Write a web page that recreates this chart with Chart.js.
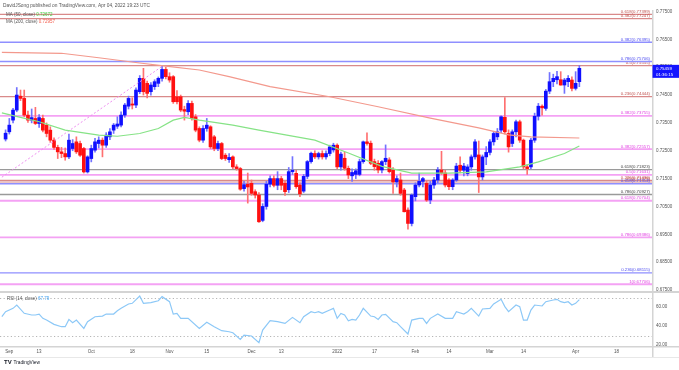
<!DOCTYPE html>
<html>
<head>
<meta charset="utf-8">
<script src="https://cdn.jsdelivr.net/npm/chart.js@4.4.0/dist/chart.umd.min.js"></script>
<style>
  html, body { margin: 0; padding: 0; background: #fff; }
</style>
</head>
<body>
<canvas id="grafica" width="679" height="370"></canvas>
<script>
// Velas diarias AUD/USD [apertura, maximo, minimo, cierre], desde el 31 de agosto de 2021
const primeraVela = "2021-08-31";
const velas = [
  [0.7292, 0.7325, 0.7285, 0.7313], [0.7318, 0.7366, 0.7310, 0.7342], [0.7360, 0.7402, 0.7350, 0.7396],
  [0.7396, 0.7477, 0.7390, 0.7450], [0.7446, 0.7468, 0.7430, 0.7438], [0.7438, 0.7468, 0.7372, 0.7378],
  [0.7378, 0.7392, 0.7352, 0.7360], [0.7360, 0.7400, 0.7350, 0.7369], [0.7366, 0.7406, 0.7344, 0.7348],
  [0.7348, 0.7380, 0.7334, 0.7369], [0.7366, 0.7378, 0.7318, 0.7324], [0.7342, 0.7350, 0.7300, 0.7312],
  [0.7324, 0.7336, 0.7280, 0.7288], [0.7288, 0.7296, 0.7255, 0.7262], [0.7262, 0.7270, 0.7222, 0.7246],
  [0.7246, 0.7262, 0.7225, 0.7240], [0.7240, 0.7260, 0.7216, 0.7228], [0.7228, 0.7310, 0.7222, 0.7288],
  [0.7258, 0.7290, 0.7250, 0.7276], [0.7282, 0.7300, 0.7240, 0.7246], [0.7276, 0.7285, 0.7230, 0.7234],
  [0.7258, 0.7262, 0.7170, 0.7174], [0.7174, 0.7232, 0.7170, 0.7228], [0.7222, 0.7270, 0.7210, 0.7258],
  [0.7252, 0.7295, 0.7245, 0.7282], [0.7276, 0.7300, 0.7260, 0.7288], [0.7288, 0.7296, 0.7228, 0.7270],
  [0.7270, 0.7315, 0.7262, 0.7306], [0.7300, 0.7330, 0.7290, 0.7318], [0.7324, 0.7348, 0.7312, 0.7342],
  [0.7338, 0.7372, 0.7330, 0.7346], [0.7342, 0.7390, 0.7336, 0.7378], [0.7378, 0.7420, 0.7370, 0.7414],
  [0.7410, 0.7446, 0.7400, 0.7438], [0.7418, 0.7440, 0.7400, 0.7414], [0.7414, 0.7476, 0.7405, 0.7468],
  [0.7462, 0.7520, 0.7455, 0.7510], [0.7510, 0.7546, 0.7450, 0.7462], [0.7492, 0.7500, 0.7440, 0.7456],
  [0.7462, 0.7495, 0.7450, 0.7486], [0.7480, 0.7505, 0.7470, 0.7498], [0.7492, 0.7515, 0.7480, 0.7510],
  [0.7510, 0.7556, 0.7500, 0.7542], [0.7542, 0.7550, 0.7508, 0.7516], [0.7516, 0.7530, 0.7496, 0.7504],
  [0.7516, 0.7520, 0.7420, 0.7426], [0.7444, 0.7466, 0.7418, 0.7426], [0.7444, 0.7450, 0.7390, 0.7396],
  [0.7398, 0.7410, 0.7360, 0.7392], [0.7390, 0.7430, 0.7380, 0.7420], [0.7420, 0.7428, 0.7360, 0.7366],
  [0.7372, 0.7380, 0.7318, 0.7324], [0.7330, 0.7336, 0.7282, 0.7288], [0.7288, 0.7340, 0.7280, 0.7330],
  [0.7330, 0.7366, 0.7320, 0.7342], [0.7336, 0.7340, 0.7258, 0.7264], [0.7300, 0.7305, 0.7250, 0.7258],
  [0.7258, 0.7285, 0.7250, 0.7276], [0.7276, 0.7280, 0.7218, 0.7222], [0.7234, 0.7240, 0.7215, 0.7222],
  [0.7218, 0.7240, 0.7208, 0.7226], [0.7228, 0.7232, 0.7186, 0.7192], [0.7192, 0.7200, 0.7180, 0.7186],
  [0.7186, 0.7190, 0.7108, 0.7112], [0.7114, 0.7140, 0.7105, 0.7128], [0.7130, 0.7170, 0.7062, 0.7120],
  [0.7133, 0.7145, 0.7090, 0.7097], [0.7103, 0.7110, 0.7080, 0.7091], [0.7091, 0.7100, 0.6993, 0.6995],
  [0.7000, 0.7060, 0.6995, 0.7050], [0.7050, 0.7140, 0.7040, 0.7130], [0.7130, 0.7160, 0.7120, 0.7150],
  [0.7150, 0.7160, 0.7120, 0.7126], [0.7126, 0.7175, 0.7110, 0.7150], [0.7150, 0.7158, 0.7110, 0.7126],
  [0.7133, 0.7140, 0.7090, 0.7103], [0.7110, 0.7190, 0.7100, 0.7175], [0.7175, 0.7229, 0.7165, 0.7180],
  [0.7169, 0.7180, 0.7115, 0.7121], [0.7127, 0.7135, 0.7085, 0.7095], [0.7105, 0.7165, 0.7100, 0.7158],
  [0.7158, 0.7215, 0.7150, 0.7211], [0.7211, 0.7245, 0.7205, 0.7241], [0.7240, 0.7250, 0.7222, 0.7228],
  [0.7228, 0.7245, 0.7220, 0.7240], [0.7240, 0.7250, 0.7220, 0.7228], [0.7228, 0.7250, 0.7220, 0.7240],
  [0.7240, 0.7270, 0.7232, 0.7264], [0.7253, 0.7277, 0.7245, 0.7270], [0.7270, 0.7275, 0.7185, 0.7192],
  [0.7192, 0.7245, 0.7180, 0.7238], [0.7223, 0.7245, 0.7180, 0.7187], [0.7187, 0.7195, 0.7150, 0.7163],
  [0.7160, 0.7185, 0.7140, 0.7172], [0.7165, 0.7185, 0.7150, 0.7178], [0.7165, 0.7220, 0.7160, 0.7211],
  [0.7211, 0.7285, 0.7205, 0.7282], [0.7282, 0.7314, 0.7270, 0.7276], [0.7277, 0.7285, 0.7200, 0.7205],
  [0.7211, 0.7220, 0.7180, 0.7193], [0.7205, 0.7215, 0.7170, 0.7181], [0.7181, 0.7215, 0.7170, 0.7211],
  [0.7211, 0.7271, 0.7200, 0.7223], [0.7217, 0.7225, 0.7170, 0.7175], [0.7180, 0.7190, 0.7097, 0.7138],
  [0.7138, 0.7160, 0.7120, 0.7150], [0.7145, 0.7170, 0.7090, 0.7097], [0.7109, 0.7115, 0.7030, 0.7031],
  [0.7037, 0.7045, 0.6968, 0.6989], [0.6989, 0.7095, 0.6980, 0.7091], [0.7085, 0.7135, 0.7070, 0.7127],
  [0.7127, 0.7170, 0.7120, 0.7140], [0.7140, 0.7155, 0.7120, 0.7150], [0.7133, 0.7140, 0.7068, 0.7073],
  [0.7073, 0.7140, 0.7060, 0.7127], [0.7127, 0.7155, 0.7115, 0.7145], [0.7145, 0.7190, 0.7135, 0.7181],
  [0.7181, 0.7248, 0.7165, 0.7170], [0.7170, 0.7180, 0.7120, 0.7127], [0.7145, 0.7150, 0.7110, 0.7121],
  [0.7121, 0.7150, 0.7110, 0.7145], [0.7145, 0.7205, 0.7140, 0.7195], [0.7198, 0.7228, 0.7170, 0.7180],
  [0.7180, 0.7205, 0.7160, 0.7195], [0.7168, 0.7200, 0.7160, 0.7192], [0.7192, 0.7235, 0.7180, 0.7228],
  [0.7228, 0.7290, 0.7220, 0.7282], [0.7235, 0.7285, 0.7100, 0.7156], [0.7156, 0.7235, 0.7145, 0.7228],
  [0.7228, 0.7265, 0.7200, 0.7244], [0.7244, 0.7290, 0.7235, 0.7282], [0.7282, 0.7320, 0.7270, 0.7312],
  [0.7300, 0.7330, 0.7290, 0.7318], [0.7324, 0.7375, 0.7315, 0.7372], [0.7370, 0.7441, 0.7310, 0.7318],
  [0.7312, 0.7325, 0.7245, 0.7264], [0.7276, 0.7325, 0.7265, 0.7318], [0.7318, 0.7360, 0.7300, 0.7354],
  [0.7354, 0.7360, 0.7280, 0.7288], [0.7288, 0.7292, 0.7185, 0.7192], [0.7192, 0.7200, 0.7165, 0.7186],
  [0.7192, 0.7295, 0.7185, 0.7288], [0.7288, 0.7385, 0.7280, 0.7374], [0.7374, 0.7420, 0.7360, 0.7410],
  [0.7410, 0.7415, 0.7378, 0.7404], [0.7402, 0.7470, 0.7395, 0.7464], [0.7464, 0.7531, 0.7455, 0.7498],
  [0.7498, 0.7525, 0.7480, 0.7510], [0.7505, 0.7535, 0.7490, 0.7516], [0.7505, 0.7534, 0.7485, 0.7486],
  [0.7486, 0.7510, 0.7456, 0.7504], [0.7498, 0.7520, 0.7480, 0.7510], [0.7504, 0.7515, 0.7465, 0.7474],
  [0.7474, 0.7534, 0.7468, 0.7492], [0.7498, 0.7556, 0.7480, 0.75459]
];

// Eje de tiempo: dias laborables
const primerDiaEje = "2021-08-30";
const diasEje = 175;
const fechasMarca = ["2021-09-01", "2021-09-13", "2021-10-01", "2021-10-18", "2021-11-01", "2021-11-15",
  "2021-12-01", "2021-12-13", "2022-01-03", "2022-01-17", "2022-02-01", "2022-02-14", "2022-03-01",
  "2022-03-14", "2022-04-01", "2022-04-18"];
const textosMarca = ["Sep", "13", "Oct", "18", "Nov", "15", "Dec", "13", "2022", "17", "Feb", "14", "Mar", "14", "Apr", "18"];

const marcasPrecio = [0.775, 0.77, 0.765, 0.76, 0.755, 0.75, 0.745, 0.74, 0.735, 0.73, 0.725, 0.72, 0.715,
  0.71, 0.705, 0.7, 0.695, 0.69, 0.685, 0.68, 0.675];
const marcasRsi = [60, 40, 20];
const bandasRsi = [70, 30];

// [indice de dia, valor]
const media50 = [[0, 0.7386], [5, 0.7370], [10, 0.7354], [17, 0.7324], [26, 0.7306], [31, 0.7302], [37, 0.7312],
  [42, 0.7330], [46, 0.7360], [49, 0.7370], [53, 0.7360], [62, 0.7342], [69, 0.7324], [75, 0.7310], [84, 0.7288],
  [93, 0.7242], [102, 0.7194], [110, 0.7170], [120, 0.7170], [130, 0.7174], [139, 0.7192], [144, 0.7210],
  [151, 0.7240], [155, 0.72672]];
const media200 = [[0, 0.7603], [16, 0.7600], [26, 0.7584], [37, 0.7565], [44, 0.7554], [53, 0.7540], [61, 0.7516],
  [72, 0.7480], [88, 0.7444], [101, 0.7408], [115, 0.7367], [128, 0.7332], [136, 0.7307], [142, 0.7300],
  [155, 0.72957]];
const rsi = [[0, 49.8], [1, 55.1], [3, 58.6], [4, 62.1], [6, 53.4], [8, 51.6], [9, 51.6], [10, 52.6], [11, 48.1],
  [12, 46.3], [14, 41.8], [16, 39.3], [17, 39.3], [18, 47.0], [19, 43.5], [20, 46.3], [22, 37.5], [23, 44.6],
  [25, 49.8], [27, 50.5], [28, 52.6], [30, 52.6], [31, 56.1], [32, 58.6], [34, 63.2], [35, 63.9], [37, 71.6],
  [38, 63.9], [40, 64.6], [42, 66.6], [43, 70.9], [45, 65.6], [46, 52.6], [47, 53.4], [48, 48.1], [50, 48.1],
  [53, 37.5], [55, 43.9], [57, 39.3], [59, 35.1], [61, 34.0], [62, 32.9], [64, 26.0], [65, 30.5], [67, 29.5],
  [69, 22.4], [70, 35.8], [72, 45.6], [74, 44.6], [76, 42.8], [78, 49.1], [80, 43.5], [81, 49.8], [83, 55.1],
  [84, 54.0], [85, 55.1], [86, 53.3], [88, 56.8], [89, 58.6], [90, 48.1], [91, 53.3], [92, 51.6], [93, 45.6],
  [94, 47.0], [95, 46.3], [96, 51.6], [97, 58.6], [99, 50.5], [100, 49.8], [101, 47.0], [102, 51.6], [103, 52.3],
  [105, 44.6], [106, 43.5], [107, 39.3], [109, 31.6], [110, 46.3], [112, 48.1], [113, 48.1], [114, 42.8],
  [115, 48.1], [117, 52.6], [119, 48.1], [121, 48.1], [122, 55.1], [124, 52.6], [125, 55.1], [126, 58.6],
  [128, 50.5], [129, 57.9], [131, 58.6], [132, 63.2], [134, 68.1], [135, 60.4], [136, 55.1], [138, 62.1],
  [139, 60.4], [140, 46.3], [141, 46.3], [142, 56.8], [143, 62.1], [145, 61.1], [146, 65.6], [148, 67.4],
  [149, 68.1], [150, 65.6], [151, 64.6], [152, 65.6], [153, 62.1], [154, 63.9], [155, 67.79]];
const lineaTendencia = [[0, 0.7155], [43, 0.7553]];

// Niveles de Fibonacci [ratio, precio]
const fiboRojo = [["0.618", 0.77399], ["0.382", 0.77247], ["0.5", 0.75555], ["0.236", 0.74444], ["0.236", 0.71436], ["0.5", 0.71378]];
const fiboAzul = [["0.382", 0.76395], ["0.786", 0.75706], ["0.618", 0.71314], ["0.236", 0.68115]];
const fiboRosa = [["0.382", 0.73755], ["0.382", 0.72557], ["0.5", 0.71631], ["0.618", 0.70704], ["0.786", 0.69386], ["1", 0.67706]];
const fiboGris = [["0.618", 0.71823], ["0.786", 0.70927]];

const cuentaAtras = "01:36:15";

// ---------------------------------------------------------------

const fuente = "'Liberation Sans', Arial, sans-serif";
Chart.defaults.font.family = fuente;

const fechas = [];
const dia = new Date(primerDiaEje + "T00:00:00Z");
while (fechas.length < diasEje) {
  const semana = dia.getUTCDay();
  if (semana !== 0 && semana !== 6) fechas.push(dia.toISOString().slice(0, 10));
  dia.setUTCDate(dia.getUTCDate() + 1);
}

const desfase = fechas.indexOf(primeraVela);
const velaEn = (i) => velas[i - desfase];

const mechas = fechas.map((f, i) => (velaEn(i) ? [velaEn(i)[2], velaEn(i)[1]] : null));
const cuerpos = fechas.map((f, i) => (velaEn(i) ? [velaEn(i)[0], velaEn(i)[3]] : null));

const colorVela = (i, azul, rojo) => {
  const v = velaEn(i);
  return v && v[3] >= v[0] ? azul : rojo;
};

const serie = (puntos) => {
  const datos = fechas.map(() => null);
  puntos.forEach(([i, v]) => {
    datos[i] = v;
  });
  return datos;
};

const gruposFibo = [
  { niveles: fiboRojo, linea: "#d98a8a", texto: "#c0504d", grosor: 1.2 },
  { niveles: fiboAzul, linea: "#8f8fff", texto: "#4b4bf0", grosor: 1.4 },
  { niveles: fiboRosa, linea: "#f4a2f4", texto: "#e040e0", grosor: 1.8 },
  { niveles: fiboGris, linea: "#9a9a9a", texto: "#444444", grosor: 1.4 },
];

const decorado = {
  id: "decorado",
  beforeDatasetsDraw(chart) {
    const { ctx, chartArea, scales } = chart;
    const y = scales.y;
    const yr = scales.yr;
    ctx.save();
    ctx.font = "4.3px " + fuente;
    ctx.textAlign = "right";
    ctx.textBaseline = "bottom";
    gruposFibo.forEach(({ niveles, linea, texto, grosor }) => {
      niveles.forEach(([ratio, precio]) => {
        const py = y.getPixelForValue(precio);
        ctx.strokeStyle = linea;
        ctx.lineWidth = grosor;
        ctx.beginPath();
        ctx.moveTo(chartArea.left, py);
        ctx.lineTo(chartArea.right, py);
        ctx.stroke();
        ctx.fillStyle = texto;
        ctx.fillText(ratio + "(" + precio.toFixed(5) + ")", chartArea.right - 2, py - 0.6);
      });
    });

    // bandas del RSI
    ctx.setLineDash([1.2, 2.4]);
    ctx.strokeStyle = "#b5b5b5";
    ctx.lineWidth = 1;
    bandasRsi.forEach((v) => {
      const py = Math.round(yr.getPixelForValue(v)) + 0.5;
      ctx.beginPath();
      ctx.moveTo(chartArea.left, py);
      ctx.lineTo(chartArea.right, py);
      ctx.stroke();
    });
    ctx.restore();
  },
  afterDraw(chart) {
    const { ctx, chartArea, scales } = chart;
    const y = scales.y;
    const yr = scales.yr;
    ctx.save();

    // separadores de paneles
    ctx.fillStyle = "#d4d4d4";
    ctx.fillRect(0, y.bottom - 1, 679, 2);
    ctx.fillRect(0, yr.bottom, 679, 1.5);
    ctx.fillRect(chartArea.right, 10, 1.5, 347);
    ctx.fillStyle = "#e8e8e8";
    ctx.fillRect(0, 357, 679, 1);

    // titulo
    ctx.textAlign = "left";
    ctx.textBaseline = "middle";
    ctx.font = "4.8px " + fuente;
    ctx.fillStyle = "#555";
    ctx.fillText("DavidJSong published on TradingView.com, Apr 04, 2022 19:23 UTC", 3, 5.5);

    // leyendas
    const leyenda = (texto, valor, color, x, py) => {
      ctx.font = "4.5px " + fuente;
      ctx.fillStyle = "#555";
      ctx.fillText(texto, x, py);
      ctx.fillStyle = color;
      ctx.fillText(valor, x + ctx.measureText(texto + " ").width, py);
    };
    leyenda("MA (50, close)", media50[media50.length - 1][1].toFixed(5), "#3fcf3f", 6, 15);
    leyenda("MA (200, close)", media200[media200.length - 1][1].toFixed(5), "#f25a4a", 6, 22);
    leyenda("RSI (14, close)", rsi[rsi.length - 1][1].toFixed(2), "#3d9ff0", 7, 298.5);

    // etiqueta del ultimo precio
    const ultimo = velas[velas.length - 1][3];
    const py = y.getPixelForValue(ultimo);
    ctx.fillStyle = "#1414ff";
    ctx.fillRect(chartArea.right + 0.5, py - 3.5, 27, 13);
    ctx.fillStyle = "#fff";
    ctx.font = "4.4px " + fuente;
    ctx.fillText(ultimo.toFixed(5), chartArea.right + 4, py + 0.3);
    ctx.fillText(cuentaAtras, chartArea.right + 4, py + 6.3);

    // logo
    ctx.fillStyle = "#131722";
    ctx.font = "bold 6px " + fuente;
    ctx.fillText("TV", 4, 362.5);
    ctx.font = "4.8px " + fuente;
    ctx.fillText("TradingView", 13.5, 362.5);
    ctx.restore();
  },
};

const ejeDerecho = (s) => {
  s.width = 27;
};

new Chart("grafica", {
  type: "bar",
  data: {
    labels: fechas,
    datasets: [
      { type: "line", data: serie(media50), yAxisID: "y", borderColor: "#86e386", borderWidth: 1.2, pointRadius: 0, spanGaps: true, order: 0 },
      { type: "line", data: serie(media200), yAxisID: "y", borderColor: "#f3998d", borderWidth: 1.2, pointRadius: 0, spanGaps: true, order: 0 },
      { type: "line", data: serie(lineaTendencia), yAxisID: "y", borderColor: "#ee8ef0", borderWidth: 1, borderDash: [2, 2], pointRadius: 0, spanGaps: true, order: 0 },
      { type: "line", data: serie(rsi), yAxisID: "yr", borderColor: "#8cc8f7", borderWidth: 1.2, pointRadius: 0, spanGaps: true, order: 0 },
      {
        data: mechas,
        yAxisID: "y",
        backgroundColor: (c) => colorVela(c.dataIndex, "#7272ff", "#ff7070"),
        barThickness: 1,
        grouped: false,
        order: 2,
      },
      {
        data: cuerpos,
        yAxisID: "y",
        backgroundColor: (c) => colorVela(c.dataIndex, "#0f0fff", "#ff1010"),
        barThickness: 3,
        minBarLength: 1,
        grouped: false,
        order: 1,
      },
    ],
  },
  options: {
    responsive: false,
    animation: false,
    events: [],
    layout: { padding: { top: 10, left: 0, right: 0, bottom: 0 } },
    plugins: { legend: { display: false }, tooltip: { enabled: false } },
    scales: {
      x: {
        type: "category",
        grid: { display: false, drawTicks: false },
        border: { display: false },
        ticks: {
          autoSkip: false,
          maxRotation: 0,
          minRotation: 0,
          padding: 3,
          color: "#555",
          font: { size: 4.5 },
          callback: (v, i) => {
            const k = fechasMarca.indexOf(fechas[i]);
            return k >= 0 ? textosMarca[k] : null;
          },
        },
        afterFit: (s) => {
          s.height = 24;
        },
      },
      y: {
        position: "right",
        stack: "paneles",
        stackWeight: 282,
        min: 0.67428,
        max: 0.77554,
        grid: { display: false, drawTicks: false },
        border: { display: false },
        afterBuildTicks: (s) => {
          s.ticks = marcasPrecio.map((v) => ({ value: v }));
        },
        ticks: { padding: 4, color: "#555", font: { size: 4.5 }, callback: (v) => Number(v).toFixed(5) },
        afterFit: ejeDerecho,
      },
      yr: {
        position: "right",
        stack: "paneles",
        stackWeight: 54,
        min: 19,
        max: 75.8,
        grid: { display: false, drawTicks: false },
        border: { display: false },
        afterBuildTicks: (s) => {
          s.ticks = marcasRsi.map((v) => ({ value: v }));
        },
        ticks: { padding: 4, color: "#555", font: { size: 4.5 }, callback: (v) => Number(v).toFixed(2) },
        afterFit: ejeDerecho,
      },
    },
  },
  plugins: [decorado],
});
</script>
</body>
</html>
